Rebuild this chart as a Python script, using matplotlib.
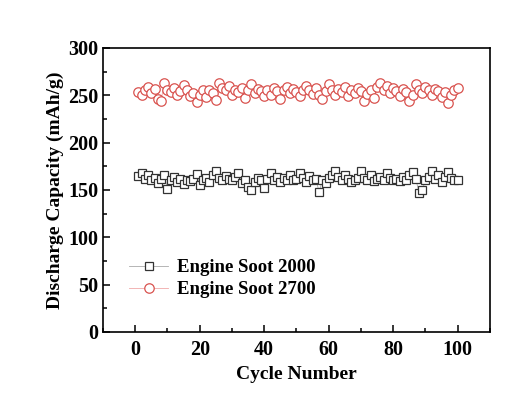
import matplotlib
matplotlib.use("Agg")
import matplotlib.pyplot as plt
from matplotlib.ticker import MultipleLocator

plt.rcParams['font.family'] = ['Liberation Serif', 'DejaVu Serif']
plt.rcParams['font.weight'] = 'bold'

# cycle numbers and discharge capacities (mAh/g)
cycles = list(range(1, 101))
soot_2000 = [165, 168, 162, 166, 160, 163, 157, 162, 166, 151, 160, 164, 158, 162, 156, 160, 159, 162, 167, 155,
             160, 163, 158, 166, 170, 163, 160, 165, 162, 160, 164, 168, 157, 160, 153, 150, 158, 163, 160, 152,
             162, 168, 160, 164, 158, 163, 161, 166, 160, 162, 168, 163, 158, 165, 160, 162, 148, 160, 157, 163,
             166, 170, 164, 160, 166, 162, 158, 161, 163, 170, 163, 160, 166, 159, 162, 164, 160, 168, 163, 160,
             162, 159, 164, 161, 166, 169, 162, 147, 150, 160, 164, 170, 162, 166, 158, 164, 169, 163, 161, 160]
soot_2700 = [253, 250, 255, 259, 252, 257, 246, 244, 263, 256, 253, 258, 250, 254, 261, 256, 249, 252, 243, 250,
             255, 248, 256, 252, 245, 263, 258, 255, 260, 250, 256, 253, 258, 247, 255, 262, 252, 257, 254, 249,
             256, 250, 258, 254, 246, 255, 259, 252, 257, 253, 249, 256, 260, 255, 251, 258, 250, 246, 254, 262,
             255, 250, 257, 253, 259, 249, 256, 252, 258, 254, 244, 251, 256, 247, 259, 263, 255, 260, 252, 258,
             254, 249, 257, 253, 244, 250, 262, 256, 252, 259, 255, 250, 257, 254, 248, 253, 242, 250, 256, 258]

fig = plt.figure(figsize=(5.32, 3.99), dpi=100)
ax = fig.add_axes([0.1936, 0.168, 0.7274, 0.712])

ax.plot(cycles, soot_2000, marker='s', ms=6.2, mfc='white', mec='#333333', mew=0.9,
        color='#aaaaaa', lw=0.6, label='Engine Soot 2000')
ax.plot(cycles, soot_2700, marker='o', ms=6.8, mfc='white', mec='#d9534f', mew=0.9,
        color='#f0a8a8', lw=0.6, label='Engine Soot 2700')

ax.set_xlim(-10, 110)
ax.set_ylim(0, 300)
ax.xaxis.set_major_locator(MultipleLocator(20))
ax.xaxis.set_minor_locator(MultipleLocator(10))
ax.yaxis.set_major_locator(MultipleLocator(50))
ax.yaxis.set_minor_locator(MultipleLocator(25))
ax.tick_params(which='both', direction='in', labelsize=14.5, width=1.1)
ax.tick_params(which='major', length=5)
ax.tick_params(which='minor', length=3)
ax.tick_params(axis='x', which='major', pad=6)
for s in ax.spines.values():
    s.set_linewidth(1.2)

ax.set_xlabel('Cycle Number', fontsize=14, fontweight='bold', labelpad=4)
ax.set_ylabel('Discharge Capacity (mAh/g)', fontsize=14, fontweight='bold', labelpad=3)

ax.legend(loc='upper left', bbox_to_anchor=(0.043, 0.29), frameon=False,
          prop={'size': 13.5, 'weight': 'bold'}, handlelength=2.1, handletextpad=0.45,
          labelspacing=0.28, borderpad=0)

fig.savefig('out.png', dpi=100)
